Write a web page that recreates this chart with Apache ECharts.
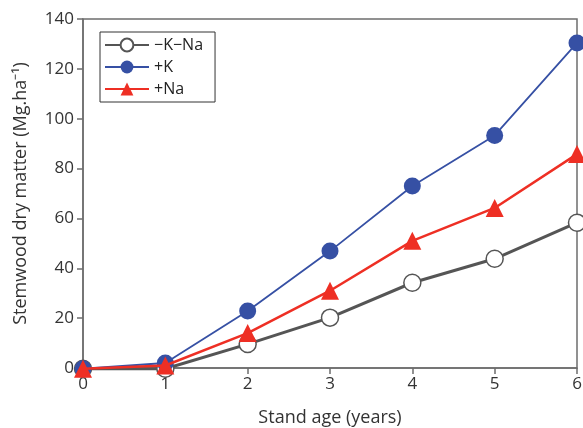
<!DOCTYPE html>
<html>
<head>
<meta charset="utf-8">
<script src="https://cdn.jsdelivr.net/npm/echarts@6/dist/echarts.min.js"></script>
<style>
  html, body { margin: 0; padding: 0; background: #fff; }
  #main { width: 583px; height: 428px; }
</style>
</head>
<body>
<div id="main"></div>
<script>
// 数据
var ages = [0, 1, 2, 3, 4, 5, 6]
var noKNa = [-0.3, -0.3, 9.6, 20.2, 34.2, 43.8, 58.3]
var plusK = [-0.3, 2, 22.9, 46.9, 73, 93.3, 130.4]
var plusNa = [-0.3, 1, 14, 31, 51, 64.2, 85.8]

var font = 'Open Sans'
var axisColor = '#6e6e6e'

function pairs(ys) {
  return ages.map(function (x, i) { return [x, ys[i]] })
}

var myChart = echarts.init(document.getElementById('main'))
var option = {
  animation: false,
  textStyle: { fontFamily: font },
  grid: {
    left: 83, right: 6, top: 19, bottom: 60,
    outerBoundsMode: 'none', containLabel: false,
    show: true, borderColor: axisColor, borderWidth: 1.5,
  },
  legend: {
    orient: 'vertical',
    left: 100, top: 32,
    itemWidth: 44, itemHeight: 16, itemGap: 6,
    padding: [5, 12, 5, 4],
    borderColor: '#333', borderWidth: 1,
    textStyle: { fontFamily: font, fontSize: 16, color: '#222' },
    data: ['\u2212K\u2212Na', '+K', '+Na'],
  },
  xAxis: {
    type: 'value', min: 0, max: 6, interval: 1,
    name: 'Stand age (years)', nameLocation: 'middle', nameGap: 41,
    nameTextStyle: { fontSize: 18, color: '#333', fontFamily: font },
    axisLine: { show: true, lineStyle: { color: axisColor, width: 1.5 } },
    axisTick: { show: true, inside: false, length: 6, lineStyle: { color: axisColor, width: 1.5 } },
    axisLabel: { fontSize: 17, color: '#333', margin: 8, fontFamily: font },
    splitLine: { show: false },
  },
  yAxis: {
    type: 'value', min: 0, max: 140, interval: 20,
    name: 'Stemwood dry matter (Mg.ha\u207B\u00B9)', nameLocation: 'middle', nameGap: 53,
    nameTextStyle: { fontSize: 18, color: '#333', fontFamily: font },
    axisLine: { show: true, lineStyle: { color: axisColor, width: 1.5 } },
    axisTick: { show: true, inside: false, length: 6, lineStyle: { color: axisColor, width: 1.5 } },
    axisLabel: { fontSize: 17, color: '#333', margin: 9, fontFamily: font },
    splitLine: { show: false },
  },
  series: [
    {
      name: '\u2212K\u2212Na', type: 'line', data: pairs(noKNa),
      symbol: 'circle', symbolSize: 17, clip: false, z: 2,
      lineStyle: { color: '#555', width: 3 },
      itemStyle: { color: '#fff', borderColor: '#555', borderWidth: 1.5 },
    },
    {
      name: '+K', type: 'line', data: pairs(plusK),
      symbol: 'circle', symbolSize: 17, clip: false, z: 3,
      lineStyle: { color: '#3650a4', width: 1.8 },
      itemStyle: { color: '#3650a4' },
    },
    {
      name: '+Na', type: 'line', data: pairs(plusNa),
      symbol: 'triangle', symbolSize: 18, clip: false, z: 4,
      lineStyle: { color: '#ee2f24', width: 2.5 },
      itemStyle: { color: '#ee2f24' },
    },
  ],
}
myChart.setOption(option)
</script>
</body>
</html>
